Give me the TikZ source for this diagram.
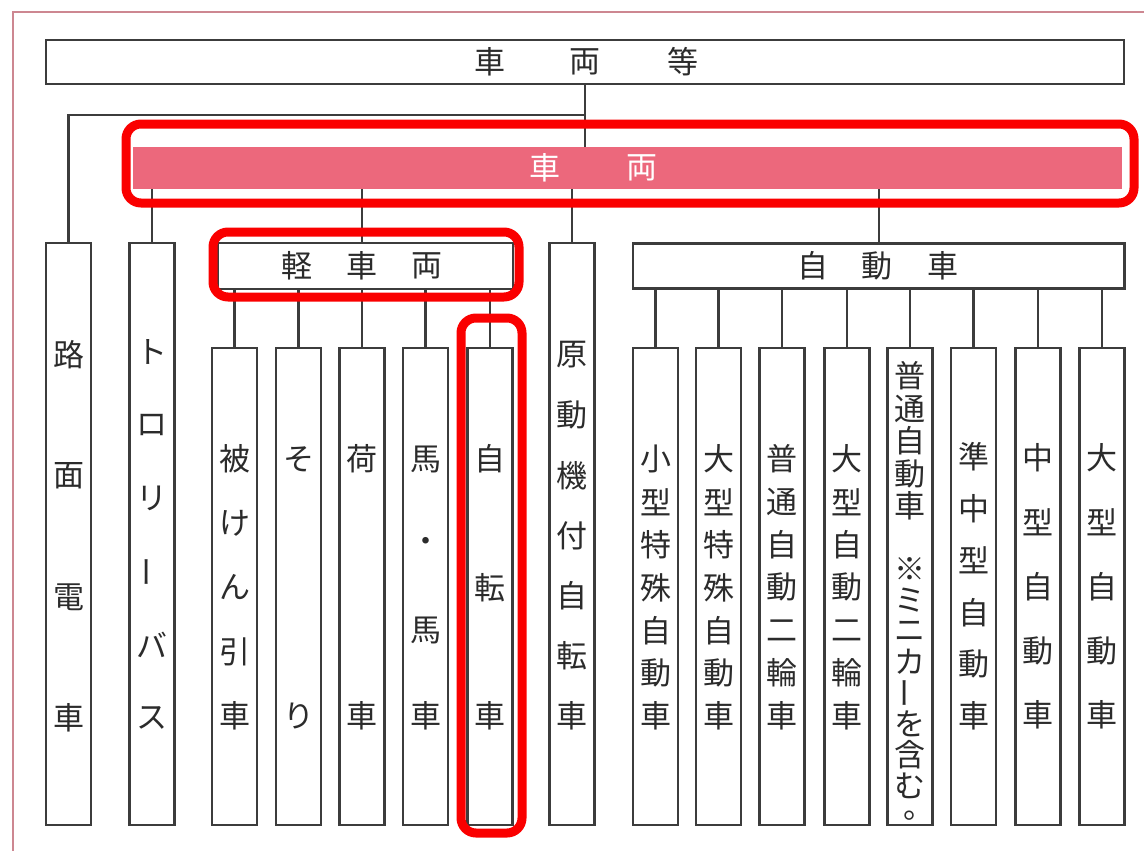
\documentclass[tikz,border=0pt]{standalone}
\usepackage{fontspec}
\newfontfamily\jp{Noto Sans CJK JP}
\definecolor{linec}{RGB}{60,60,60}
\definecolor{txt}{RGB}{43,43,43}
\definecolor{pinkfill}{RGB}{236,104,124}
\definecolor{hlred}{RGB}{250,0,0}
\definecolor{framec}{RGB}{205,135,145}
\newcommand\vtext[5]{%
  \foreach \glyph [count=\i from 0] in {#5}
    \node[ch, name=#1\i] at (#2, #3+\i*#4) {\glyph};}
\begin{document}
\begin{tikzpicture}[x=1pt,y=-1pt,
  ln/.style={draw=linec, line width=2.1pt},
  box/.style={draw=linec, line width=2.1pt, fill=white, inner sep=0pt},
  col/.style={box, minimum width=45pt},
  ch/.style={text=txt, font=\jp\fontsize{31}{31}\selectfont, inner sep=0pt},
  wch/.style={ch, text=white},
  hl/.style={draw=hlred, line width=9pt, rounded corners=15pt},
]
\useasboundingbox (0,0) rectangle (1144,851);
\fill[white] (0,0) rectangle (1144,851);
\draw[framec, line width=1.5pt] (13,851) -- (13,12) -- (1144,12);

% header boxes
\node[box, minimum width=1078pt, minimum height=44pt] (all) at (585,62) {};
\node[fill=pinkfill, inner sep=0pt, minimum width=989pt, minimum height=42pt] (veh) at (627.5,168) {};
\node[box, minimum width=295pt, minimum height=46pt] (kei) at (365.5,266) {};
\node[box, minimum width=491.5pt, minimum height=45pt] (car) at (878.75,266) {};

% columns
\node[col, minimum height=582pt] (rom) at (68.5,534) {};
\node[col, minimum height=582pt] (tro) at (152,534) {};
\node[col, minimum height=582pt] (gen) at (572,534) {};
\foreach \n/\x in {1/234.5,2/298.5,3/362,4/425.5,5/490}
  \node[col, minimum height=477pt] (c\n) at (\x,586.5) {};
\foreach \n/\x in {1/655.5,2/718.5,3/782,4/847,5/910,6/973.5,7/1038,8/1102}
  \node[col, minimum height=477pt] (a\n) at (\x,586.5) {};

% connectors
\coordinate (j1) at (585,115);
\draw[ln] (all.south) -- (all.south |- veh.north);
\draw[ln] (j1) -| (rom.north);
\draw[ln] (veh.south -| tro.north) -- (tro.north);
\draw[ln] (veh.south -| c3.north) -- (kei.north -| c3.north);
\draw[ln] (veh.south -| gen.north) -- (gen.north);
\draw[ln] (veh.south -| car.north) -- (car.north);
\foreach \n in {1,...,5}
  \draw[ln] (kei.south -| c\n.north) -- (c\n.north);
\foreach \n in {1,...,8}
  \draw[ln] (car.south -| a\n.north) -- (a\n.north);

% horizontal labels
\node[ch] (t1) at (490,62) {車};
\node[ch] (t2) at (585,62) {両};
\node[ch] (t3) at (683,62) {等};
\node[wch] (v1) at (545,168) {車};
\node[wch] (v2) at (642,168) {両};
\node[ch] (k1) at (297,266) {軽};
\node[ch] (k2) at (362,266) {車};
\node[ch] (k3) at (427,266) {両};
\node[ch] (m1) at (813,266) {自};
\node[ch] (m2) at (877,266) {動};
\node[ch] (m3) at (943,266) {車};

% vertical labels
\vtext{rt}{68.5}{355}{121}{路,面,電,車}
\vtext{tt}{152}{352}{73.2}{ト,ロ,リ,{\rotatebox{90}{ー}},バ,ス}
\vtext{c1t}{234.5}{459}{64.25}{被,け,ん,引,車}
\vtext{c2t}{298.5}{459}{257}{そ,り}
\vtext{c3t}{362}{459}{257}{荷,車}
\vtext{c4t}{425.5}{459}{85.67}{馬,・,馬,車}
\vtext{c5t}{490}{459}{128.5}{自,転,車}
\vtext{gt}{572}{355}{60.2}{原,動,機,付,自,転,車}
\vtext{a1t}{655.5}{459}{42.8}{小,型,特,殊,自,動,車}
\vtext{a2t}{718.5}{459}{42.8}{大,型,特,殊,自,動,車}
\vtext{a3t}{782}{459}{42.8}{普,通,自,動,二,輪,車}
\vtext{a4t}{847}{459}{42.8}{大,型,自,動,二,輪,車}
\vtext{a5t}{910}{376}{32.5}{普,通,自,動,車}
\vtext{a5u}{910}{569}{31}{※,ミ,ニ,カ,{\rotatebox{90}{ー}},を,含,む}
\node[ch, anchor=base west] (a5p) at (903,818) {\smash{。}};
\vtext{a6t}{973.5}{457}{51.8}{準,中,型,自,動,車}
\vtext{a7t}{1038}{458}{64.2}{中,型,自,動,車}
\vtext{a8t}{1102}{458}{64.2}{大,型,自,動,車}

% red highlights
\draw[hl] (126,124) rectangle (1134,203);
\draw[hl] (213,232) rectangle (519,297);
\draw[hl] (461,318) rectangle (522,833);
\end{tikzpicture}
\end{document}
